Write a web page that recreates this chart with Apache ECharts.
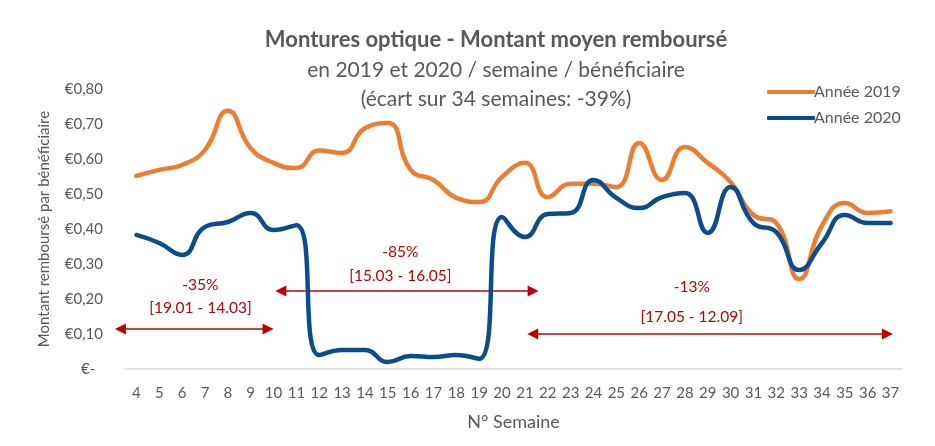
<!DOCTYPE html>
<html><head><meta charset="utf-8">
<script src="https://cdn.jsdelivr.net/npm/echarts@6/dist/echarts.min.js"></script>
<style>html,body{margin:0;padding:0;background:#fff}#c{width:935px;height:446px}</style>
</head><body><div id="c"></div>
<script>
const weeks = ['4','5','6','7','8','9','10','11','12','13','14','15','16','17','18','19','20','21','22','23','24','25','26','27','28','29','30','31','32','33','34','35','36','37'];
const v2019 = [0.552,0.569,0.583,0.626,0.738,0.631,0.589,0.574,0.624,0.617,0.688,0.703,0.569,0.540,0.489,0.477,0.549,0.589,0.491,0.529,0.529,0.520,0.646,0.540,0.634,0.589,0.534,0.440,0.417,0.257,0.410,0.474,0.446,0.451];
const v2020 = [0.383,0.360,0.326,0.406,0.420,0.446,0.397,0.411,0.040,0.054,0.054,0.020,0.037,0.034,0.040,0.029,0.434,0.377,0.443,0.446,0.540,0.489,0.460,0.491,0.503,0.389,0.520,0.417,0.391,0.283,0.360,0.440,0.417,0.417];
const seriesNames = ['Année 2019','Année 2020'];
const titleLines = ['Montures optique - Montant moyen remboursé','en 2019 et 2020 / semaine / bénéficiaire','(écart sur 34 semaines: -39%)'];
const yAxisName = 'Montant remboursé par bénéficiaire';
const xAxisName = 'N° Semaine';
// annotation periods: [fromWeek, toWeek, yValue], labels
const periodArrows = [[3.06,10.0,0.114],[10.08,21.6,0.223],[21.1,37.1,0.10]];
const periodPct = ['-35%','-85%','-13%'];
const periodDates = ['[19.01 - 14.03]','[15.03 - 16.05]','[17.05 - 12.09]'];
const periodLabelAnchors = [[6.8,0.24,0.174],[15.55,0.334,0.266],[28.3,0.234,0.149]];

const FONT = 'Lato';
const GRAY = '#595959';
const RED = '#C00000';
const chart = echarts.init(document.getElementById('c'));
chart.setOption({
  animation:false,
  textStyle:{fontFamily:FONT},
  title:[
    {text:titleLines[0],left:491,textAlign:'center',top:24,textStyle:{fontFamily:FONT,fontSize:22,fontWeight:'bold',color:GRAY}},
    {text:titleLines[1],left:491,textAlign:'center',top:55,textStyle:{fontFamily:FONT,fontSize:21,fontWeight:'normal',color:GRAY}},
    {text:titleLines[2],left:491,textAlign:'center',top:84,textStyle:{fontFamily:FONT,fontSize:21,fontWeight:'normal',color:GRAY}}
  ],
  legend:{orient:'vertical',left:762,top:79,itemWidth:48,itemHeight:4,itemGap:10,
    icon:'roundRect',
    textStyle:{fontFamily:FONT,fontSize:16,color:GRAY,padding:[0,0,0,-6]},
    data:seriesNames},
  grid:{left:125,right:33,top:89,bottom:77},
  xAxis:{type:'category',data:weeks,boundaryGap:true,
    name:xAxisName,nameLocation:'middle',nameGap:44,
    nameTextStyle:{fontFamily:FONT,fontSize:18,color:GRAY},
    axisLine:{lineStyle:{color:'#D9D9D9',width:1.5}},axisTick:{show:false},
    axisLabel:{fontFamily:FONT,fontSize:15,color:GRAY,margin:17,interval:0}},
  yAxis:{type:'value',min:0,max:0.8,interval:0.1,
    name:yAxisName,nameLocation:'middle',nameGap:73,nameRotate:90,
    nameTextStyle:{fontFamily:FONT,fontSize:15,color:GRAY},
    axisLine:{show:false},axisTick:{show:false},splitLine:{show:false},
    axisLabel:{fontFamily:FONT,fontSize:15,color:GRAY,margin:22,
      formatter:v=> v===0 ? '€-  ' : '€'+v.toFixed(2).replace('.',',')}},
  series:[
    {name:seriesNames[0],type:'line',data:v2019,smooth:0.5,symbol:'none',
      lineStyle:{color:'#ED7D31',width:4.5,cap:'round',join:'round'},itemStyle:{color:'#ED7D31'}},
    {name:seriesNames[1],type:'line',data:v2020,smooth:0.5,symbol:'none',
      lineStyle:{color:'#0B4C8C',width:4.5,cap:'round',join:'round'},itemStyle:{color:'#0B4C8C'}}
  ]
});
// annotations positioned from data coordinates
const x0 = chart.convertToPixel({xAxisIndex:0}, weeks[0]);
const x1 = chart.convertToPixel({xAxisIndex:0}, weeks[1]);
const xOf = w => x0 + (w - Number(weeks[0])) * (x1 - x0);
const yOf = v => chart.convertToPixel({yAxisIndex:0}, v);
const g = [];
periodArrows.forEach(([a,b,v])=>{
  const xa=xOf(a), xb=xOf(b), y=yOf(v), L=11, H=5.5;
  g.push({type:'line',shape:{x1:xa+L-1,y1:y,x2:xb-L+1,y2:y},style:{stroke:RED,lineWidth:1.5}});
  g.push({type:'polygon',shape:{points:[[xa,y],[xa+L,y-H],[xa+L,y+H]]},style:{fill:RED}});
  g.push({type:'polygon',shape:{points:[[xb,y],[xb-L,y-H],[xb-L,y+H]]},style:{fill:RED}});
});
periodLabelAnchors.forEach(([w,vp,vd],i)=>{
  g.push({type:'text',x:xOf(w),y:yOf(vp),style:{text:periodPct[i],fill:RED,font:'15.5px '+FONT,align:'center',verticalAlign:'middle'}});
  g.push({type:'text',x:xOf(w),y:yOf(vd),style:{text:periodDates[i],fill:RED,font:'15.5px '+FONT,align:'center',verticalAlign:'middle'}});
});
chart.setOption({graphic:g});
</script></body></html>
